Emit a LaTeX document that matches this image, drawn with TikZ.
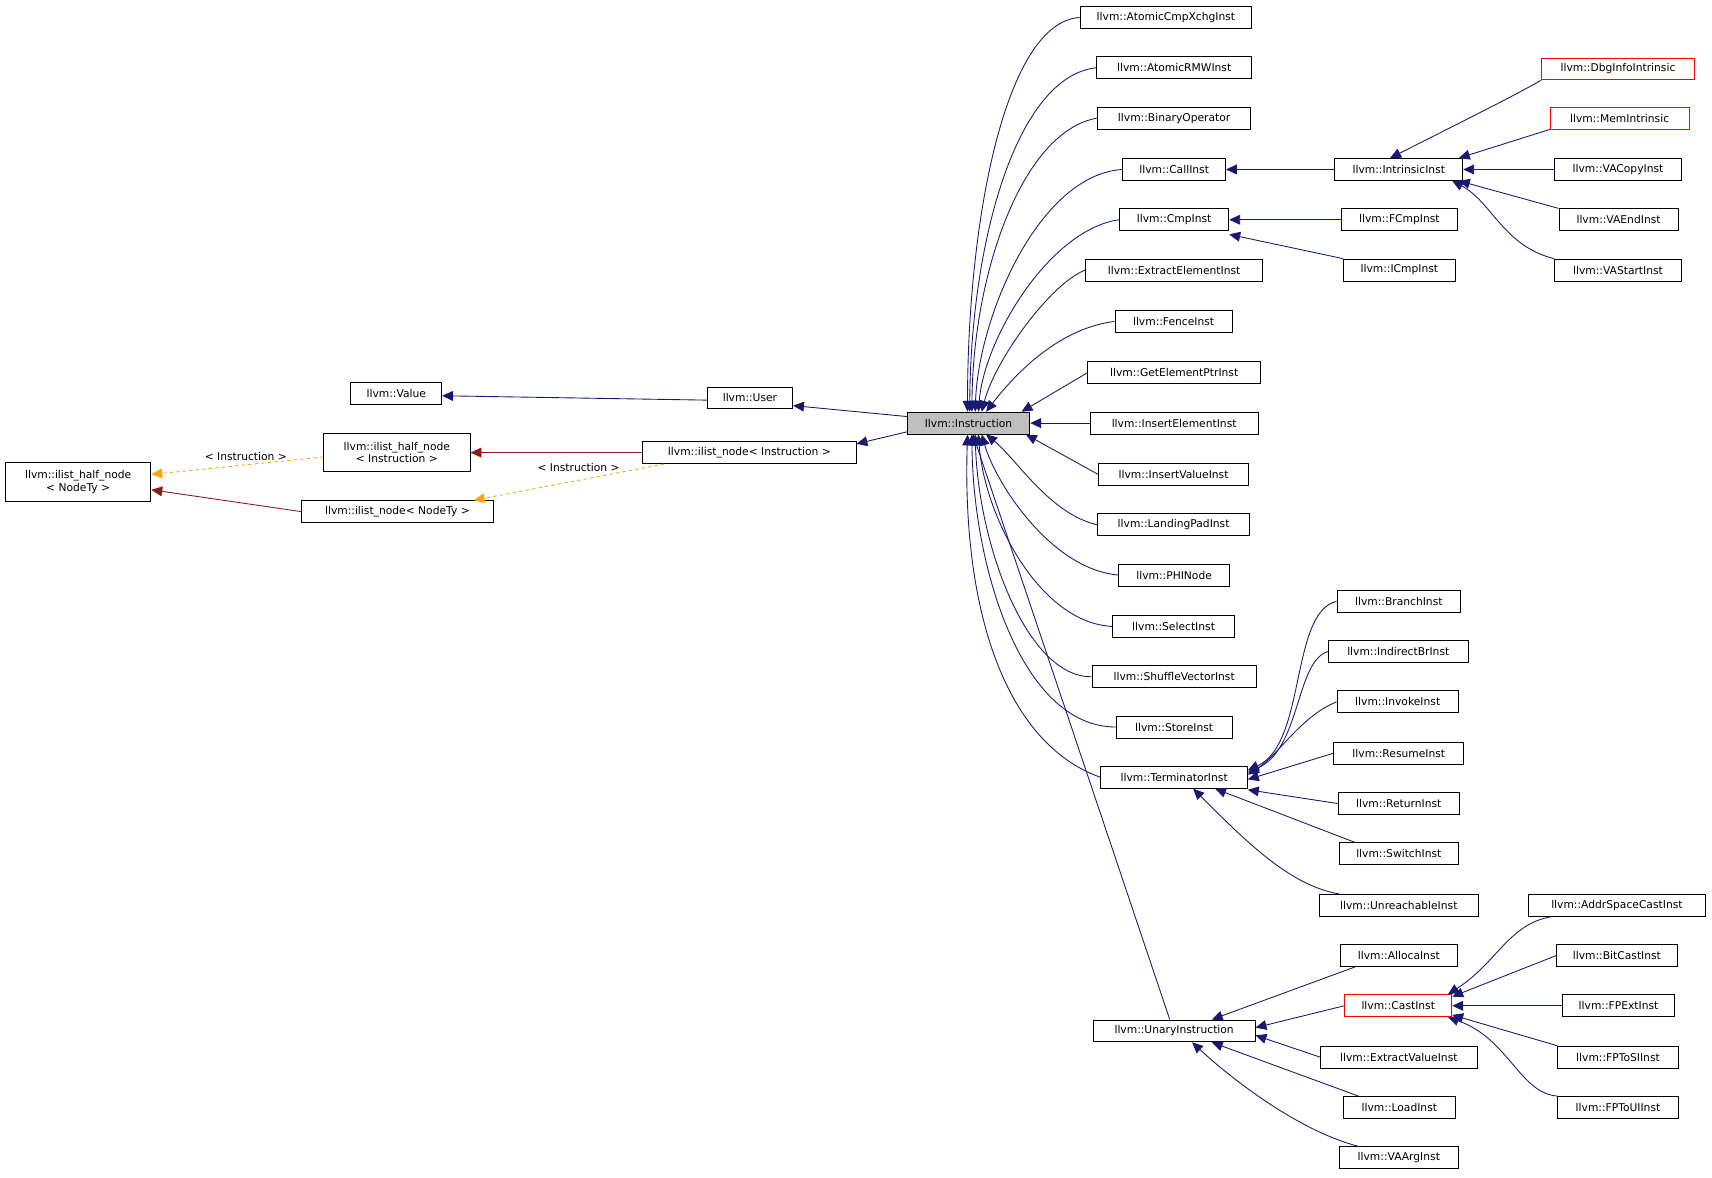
\documentclass[tikz,border=0pt]{standalone}
\usepackage{fontspec}
\setmainfont{DejaVu Sans}
\usetikzlibrary{arrows.meta}
\definecolor{nv}{HTML}{191970}
\definecolor{dr}{HTML}{8B1A1A}
\definecolor{og}{HTML}{FFA500}
\tikzset{
 box/.style={draw,thick,inner sep=0pt,minimum height=20pt,font=\fontsize{9.8}{11.5}\selectfont,align=center},
 ar/.style={draw=nv,thick,-{Triangle[length=10pt,width=9pt]}},
 rar/.style={draw=dr,thick,-{Triangle[length=10pt,width=9pt]}},
 oar/.style={draw=og,thick,dashed,-{Triangle[length=10pt,width=9pt]}},
 lab/.style={font=\fontsize{9.8}{11.5}\selectfont}
}
\newcommand\bx[6][]{\node[box,#1,minimum width={(#4-#3)*1pt}] (#2) at ({(#3+#4)/2},#5) {#6};}
\begin{document}
\begin{tikzpicture}[x=1pt,y=-1pt]
\useasboundingbox (0,0) rectangle (1566,1077);
\bx[minimum height=36pt]{hn}{5}{138}{441}{llvm::ilist\_half\_node\\< NodeTy >}
\bx{val}{321}{404}{360}{llvm::Value}
\bx[minimum height=35pt]{hi}{296}{430}{414}{llvm::ilist\_half\_node\\< Instruction >}
\bx{nn}{276}{451}{468}{llvm::ilist\_node< NodeTy >}
\bx{usr}{647}{725}{364}{llvm::User}
\bx{ni}{588}{783}{414}{llvm::ilist\_node< Instruction >}
\bx[fill=black!25]{inst}{830}{942}{387}{llvm::Instruction}
\bx{acx}{988}{1145}{16}{llvm::AtomicCmpXchgInst}
\bx{rmw}{1003}{1145}{62}{llvm::AtomicRMWInst}
\bx{bin}{1004}{1144}{108}{llvm::BinaryOperator}
\bx{call}{1027}{1121}{155}{llvm::CallInst}
\bx{cmp}{1024}{1124}{201}{llvm::CmpInst}
\bx{eei}{993}{1155}{247}{llvm::ExtractElementInst}
\bx{fen}{1020}{1127}{294}{llvm::FenceInst}
\bx{gep}{995}{1153}{341}{llvm::GetElementPtrInst}
\bx{iei}{997}{1151}{387}{llvm::InsertElementInst}
\bx{ivi}{1005}{1142}{434}{llvm::InsertValueInst}
\bx{lpi}{1004}{1143}{480}{llvm::LandingPadInst}
\bx{phi}{1023}{1125}{526}{llvm::PHINode}
\bx{sel}{1018}{1129}{573}{llvm::SelectInst}
\bx{svi}{999}{1149}{619}{llvm::ShuffleVectorInst}
\bx{sto}{1021}{1127}{665}{llvm::StoreInst}
\bx{ter}{1007}{1141}{711}{llvm::TerminatorInst}
\bx{una}{1000}{1148}{943}{llvm::UnaryInstruction}
\bx{intr}{1221}{1338}{155}{llvm::IntrinsicInst}
\bx{fcmp}{1227}{1333}{201}{llvm::FCmpInst}
\bx{icmp}{1229}{1331}{247}{llvm::ICmpInst}
\bx[draw=red]{dbg}{1410}{1550}{63}{llvm::DbgInfoIntrinsic}
\bx[draw=red]{mem}{1418}{1545}{108}{llvm::MemIntrinsic}
\bx{vac}{1422}{1538}{155}{llvm::VACopyInst}
\bx{vae}{1426}{1535}{201}{llvm::VAEndInst}
\bx{vas}{1422}{1538}{247}{llvm::VAStartInst}
\bx{br}{1223}{1336}{550}{llvm::BranchInst}
\bx{ibr}{1215}{1343}{596}{llvm::IndirectBrInst}
\bx{inv}{1223}{1334}{642}{llvm::InvokeInst}
\bx{res}{1220}{1339}{689}{llvm::ResumeInst}
\bx{ret}{1224}{1335}{735}{llvm::ReturnInst}
\bx{sw}{1225}{1334}{781}{llvm::SwitchInst}
\bx{unr}{1207}{1352}{828}{llvm::UnreachableInst}
\bx{all}{1226}{1333}{874}{llvm::AllocaInst}
\bx[draw=red]{cast}{1230}{1328}{920}{llvm::CastInst}
\bx{evi}{1208}{1351}{967}{llvm::ExtractValueInst}
\bx{load}{1229}{1331}{1013}{llvm::LoadInst}
\bx{vaa}{1225}{1334}{1059}{llvm::VAArgInst}
\bx{asc}{1398}{1560}{828}{llvm::AddrSpaceCastInst}
\bx{bc}{1424}{1534}{874}{llvm::BitCastInst}
\bx{fpe}{1429}{1532}{920}{llvm::FPExtInst}
\bx{fsi}{1425}{1535}{967}{llvm::FPToSIInst}
\bx{fui}{1425}{1535}{1013}{llvm::FPToUIInst}
% left part
\draw[ar] ([yshift=-2pt]usr.west) -- ([yshift=-2pt]val.east);
\draw[ar] ([yshift=6pt]inst.west) -- ([yshift=-7pt]usr.east);
\draw[ar] ([yshift=-8pt]inst.west) -- ([yshift=8pt]ni.east);
\draw[rar] (ni.west) -- (hi.east);
\draw[rar] (nn.west) -- ([yshift=-7pt]hn.east);
\draw[oar] ([yshift=-4pt]hi.west) -- node[lab,above,pos=0.45] {< Instruction >} ([yshift=7pt]hn.east);
\draw[oar] ([xshift=20pt]ni.south west) -- node[lab,above,pos=0.45,yshift=4pt] {< Instruction >} ([xshift=-18pt]nn.north east);
% Instruction children
\draw[ar] (acx.west) .. controls (920,20) and (885,200) .. ([xshift=-1pt]inst.north);
\draw[ar] (rmw.west) .. controls (930,70) and (888,220) .. ([xshift=1pt]inst.north);
\draw[ar] (bin.west) .. controls (935,120) and (890,250) .. ([xshift=3pt]inst.north);
\draw[ar] (call.west) .. controls (950,160) and (895,290) .. ([xshift=6pt]inst.north);
\draw[ar] (cmp.west) .. controls (960,210) and (900,310) .. ([xshift=9pt]inst.north);
\draw[ar] (eei.west) .. controls (960,260) and (910,330) .. ([xshift=12pt]inst.north);
\draw[ar] (fen.west) .. controls (970,300) and (930,340) .. ([xshift=16pt]inst.north);
\draw[ar] (gep.west) -- ([xshift=-8pt]inst.north east);
\draw[ar] (iei.west) -- (inst.east);
\draw[ar] (ivi.west) -- ([xshift=-4pt]inst.south east);
\draw[ar] (lpi.west) .. controls (960,470) and (930,420) .. ([xshift=16pt]inst.south);
\draw[ar] (phi.west) .. controls (960,520) and (910,440) .. ([xshift=12pt]inst.south);
\draw[ar] (sel.west) .. controls (950,570) and (900,470) .. ([xshift=9pt]inst.south);
\draw[ar] (svi.west) .. controls (940,620) and (895,500) .. ([xshift=6pt]inst.south);
\draw[ar] (sto.west) .. controls (935,665) and (890,520) .. ([xshift=3pt]inst.south);
\draw[ar] (ter.west) .. controls (920,680) and (880,560) .. ([xshift=-1pt]inst.south);
\draw[ar] ([xshift=-4pt]una.north) -- ([xshift=4pt]inst.south);
% intrinsic
\draw[ar] (intr.west) -- (call.east);
\draw[ar] (fcmp.west) -- (cmp.east);
\draw[ar] (icmp.north west) -- ([yshift=-3pt]cmp.south east);
\draw[ar] (dbg.south west) .. controls (1390,85) and (1340,110) .. ([xshift=-8pt]intr.north);
\draw[ar] (mem.south west) -- ([xshift=-4pt]intr.north east);
\draw[ar] (vac.west) -- (intr.east);
\draw[ar] (vae.north west) -- ([xshift=-4pt]intr.south east);
\draw[ar] (vas.north west) .. controls (1375,225) and (1365,185) .. ([xshift=-10pt]intr.south east);
% terminator
\draw[ar] (br.west) .. controls (1180,560) and (1195,680) .. ([yshift=-4pt]ter.north east);
\draw[ar] (ibr.west) .. controls (1185,605) and (1190,685) .. ([yshift=-6pt]ter.north east);
\draw[ar] (inv.west) .. controls (1190,655) and (1170,690) .. ([yshift=-8pt]ter.north east);
\draw[ar] (res.west) -- ([yshift=-2pt]ter.east);
\draw[ar] (ret.west) -- ([yshift=-1pt]ter.south east);
\draw[ar] ([xshift=15pt]sw.north west) -- ([xshift=-30pt]ter.south east);
\draw[ar] ([xshift=18pt]unr.north west) .. controls (1180,810) and (1140,770) .. ([xshift=-50pt]ter.south east);
% unary
\draw[ar] ([xshift=14pt]all.south west) -- ([xshift=-40pt]una.north east);
\draw[ar] (cast.west) -- ([yshift=3pt]una.east);
\draw[ar] (evi.west) -- ([yshift=-4pt]una.east);
\draw[ar] ([xshift=14pt]load.north west) -- ([xshift=-40pt]una.south east);
\draw[ar] ([xshift=18pt]vaa.north west) .. controls (1190,1035) and (1130,990) .. ([xshift=-58pt]una.south east);
% cast
\draw[ar] ([xshift=22pt]asc.south west) .. controls (1380,845) and (1370,880) .. ([xshift=-4pt]cast.north east);
\draw[ar] (bc.west) -- ([yshift=-2pt]cast.north east);
\draw[ar] (fpe.west) -- (cast.east);
\draw[ar] (fsi.north west) -- ([yshift=2pt]cast.south east);
\draw[ar] (fui.north west) .. controls (1390,1000) and (1380,950) .. ([xshift=-4pt]cast.south east);
\end{tikzpicture}
\end{document}
